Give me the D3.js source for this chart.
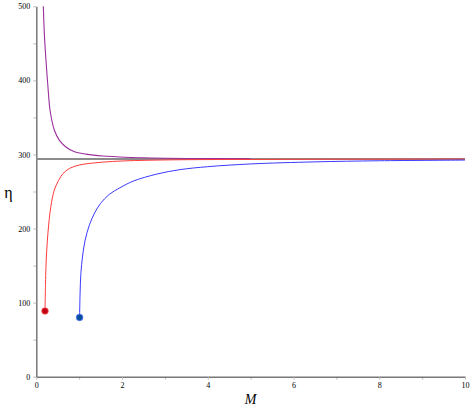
<!DOCTYPE html>
<html>
<head>
<meta charset="utf-8">
<script src="https://cdn.jsdelivr.net/npm/d3@7"></script>
<style>
  body { margin: 0; background: #fff; }
  svg { display: block; font-family: "Liberation Serif", "DejaVu Serif", serif; }
</style>
</head>
<body>
<script>
// values
var xTicks = [0, 2, 4, 6, 8, 10];
var yTicks = [0, 100, 200, 300, 400, 500];
var eta0 = 293.8;

var redM   = [0.203, 0.215, 0.225, 0.245, 0.27, 0.30, 0.34, 0.42, 0.52, 0.62, 0.77, 1.0, 1.39, 1.93, 3, 5, 7, 10];
var redEta = [88.7, 125, 148, 172, 193, 212, 230, 252, 265, 274, 281, 285.7, 288.8, 291, 292.6, 293.3, 293.6, 293.8];

var blueM   = [1.01, 1.02, 1.04, 1.08, 1.14, 1.24, 1.36, 1.5, 1.7, 1.95, 2.26, 2.81, 3.35, 4.0, 5, 6.5, 8, 10];
var blueEta = [80, 110, 139.5, 163, 184.5, 205, 221, 234, 246, 255, 264, 273.5, 279.5, 283.5, 287.2, 290, 291.5, 292.4];

var purpleM   = [0.164, 0.19, 0.226, 0.28, 0.32, 0.42, 0.54, 0.69, 0.89, 1.16, 1.55, 1.86, 2.5, 3.5, 5];
var purpleEta = [500, 460, 427, 385, 360, 333, 319, 310, 303.6, 300.5, 298, 297, 295.5, 294.6, 294.2];

var width = 471, height = 411;

var x = d3.scaleLinear().domain([0, 10]).range([36.3, 465]);
var y = d3.scaleLinear().domain([0, 500]).range([376.7, 6.3]);

var svg = d3.select('body').append('svg')
    .attr('width', width)
    .attr('height', height);

function zip(ms, es) {
  return ms.map(function(m, i) { return [m, es[i]]; });
}

var line = d3.line()
    .x(function(d) { return x(d[0]); })
    .y(function(d) { return y(d[1]); })
    .curve(d3.curveCatmullRom.alpha(0.5));

// axes with minor ticks
var xMinor = d3.range(1, 10, 2), yMinor = d3.range(50, 500, 100);

svg.append('g')
    .attr('transform', 'translate(0,' + y(0) + ')')
    .call(d3.axisBottom(x).tickValues(xMinor).tickSize(3).tickFormat(''))
    .call(function(g) { g.select('.domain').remove(); g.selectAll('line').attr('stroke', '#bbb'); });
svg.append('g')
    .attr('transform', 'translate(' + x(0) + ',0)')
    .call(d3.axisLeft(y).tickValues(yMinor).tickSize(3).tickFormat(''))
    .call(function(g) { g.select('.domain').remove(); g.selectAll('line').attr('stroke', '#bbb'); });

var xAxis = svg.append('g')
    .attr('transform', 'translate(0,' + y(0) + ')')
    .call(d3.axisBottom(x).tickValues(xTicks).tickSize(3).tickSizeOuter(0).tickPadding(3));
var yAxis = svg.append('g')
    .attr('transform', 'translate(' + x(0) + ',0)')
    .call(d3.axisLeft(y).tickValues(yTicks).tickSize(3).tickSizeOuter(0).tickPadding(3));

[xAxis, yAxis].forEach(function(g) {
  g.select('.domain').attr('stroke', '#777').attr('stroke-width', 1.5);
  g.selectAll('.tick line').attr('stroke', '#bbb');
  g.selectAll('.tick text')
    .attr('fill', '#000')
    .style('font-family', '"Liberation Serif", serif')
    .style('font-size', '8px');
});

// asymptote
svg.append('line')
    .attr('x1', x(0)).attr('x2', x(10))
    .attr('y1', y(eta0)).attr('y2', y(eta0))
    .attr('stroke', '#8c8c8c')
    .attr('stroke-width', 2);

svg.append('path').datum(zip(purpleM, purpleEta))
    .attr('d', line).attr('fill', 'none')
    .attr('stroke', '#9b2f9b').attr('stroke-width', 1.1);
svg.append('path').datum(zip(redM, redEta))
    .attr('d', line).attr('fill', 'none')
    .attr('stroke', '#ff3a3a').attr('stroke-width', 1);
svg.append('path').datum(zip(blueM, blueEta))
    .attr('d', line).attr('fill', 'none')
    .attr('stroke', '#3a3aff').attr('stroke-width', 1);

// starting points
svg.append('circle')
    .attr('cx', x(redM[0])).attr('cy', y(redEta[0])).attr('r', 3.3)
    .attr('fill', '#c00010').attr('stroke', '#ff6060').attr('stroke-width', 0.8);
svg.append('circle')
    .attr('cx', x(blueM[0])).attr('cy', y(blueEta[0])).attr('r', 3.3)
    .attr('fill', '#0a4f9a').attr('stroke', '#4a70ff').attr('stroke-width', 0.8);

// axis titles
svg.append('text')
    .attr('x', 250.5).attr('y', 404)
    .attr('text-anchor', 'middle')
    .style('font-size', '14px')
    .style('font-style', 'italic')
    .text('M');
svg.append('text')
    .attr('x', 8.5).attr('y', 198)
    .attr('text-anchor', 'middle')
    .style('font-size', '16px')
    .text('η');
</script>
</body>
</html>
